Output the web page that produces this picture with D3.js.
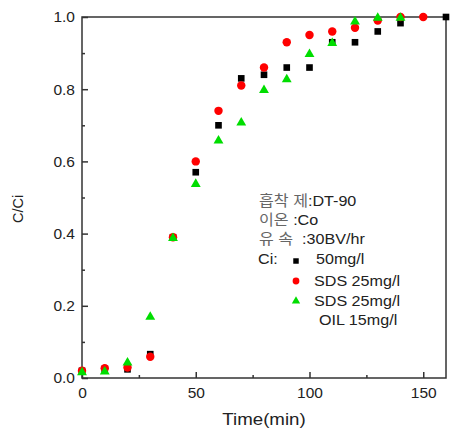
<!DOCTYPE html>
<html>
<head>
<meta charset="utf-8">
<script src="https://cdn.jsdelivr.net/npm/d3@7"></script>
<style>
  body { margin: 0; background: #fff; }
  text { font-family: "Liberation Sans", Arial, "Noto Sans CJK KR", sans-serif; white-space: pre; }
</style>
</head>
<body>
<svg id="chart" width="452" height="437"></svg>
<script>
// data
const blackTimes = [0, 10, 20, 30, 40, 50, 60, 70, 80, 90, 100, 110, 120, 130, 140, 160];
const blackVals  = [0.02, 0.025, 0.024, 0.066, 0.39, 0.57, 0.70, 0.83, 0.84, 0.86, 0.86, 0.93, 0.93, 0.96, 0.983, 1.0];
const redTimes = [0, 10, 20, 30, 40, 50, 60, 70, 80, 90, 100, 110, 120, 130, 140, 150];
const redVals  = [0.02, 0.027, 0.029, 0.059, 0.39, 0.60, 0.74, 0.81, 0.86, 0.93, 0.95, 0.96, 0.97, 0.99, 1.0, 1.0];
const greenTimes = [0, 10, 20, 30, 40, 50, 60, 70, 80, 90, 100, 110, 120, 130, 140];
const greenVals  = [0.018, 0.02, 0.045, 0.172, 0.39, 0.54, 0.66, 0.71, 0.80, 0.83, 0.90, 0.93, 0.99, 1.0, 1.0];
const xTicks = [0, 50, 100, 150];
const xMinor = [25, 75, 125];
const yTicks = [0.0, 0.2, 0.4, 0.6, 0.8, 1.0];
const yMinor = [0.1, 0.3, 0.5, 0.7, 0.9];
const infoKeys = ["흡착 제", "이온 ", "유 속  "];
const infoValues = [":DT-90", ":Co", ":30BV/hr"];
const legendLabels = ["50mg/l", "SDS 25mg/l", "SDS 25mg/l", "OIL 15mg/l"];

const svg = d3.select("#chart");
const margins = {left: 82, top: 17, right: 6, bottom: 59};
const height = +svg.attr("height");
const chartHeight = height - margins.top - margins.bottom;
const axisColor = "#333";
const stretch = 1.075; // the reference text is a bit wide

const xScale = d3.scaleLinear().domain([0, 160]).range([0, 364]);
const yScale = d3.scaleLinear().domain([0, 1]).range([chartHeight, 0]);

const chart = svg.append("g")
                 .attr("transform", `translate(${margins.left}, ${margins.top})`);

// frame
chart.append("rect")
     .attr("x", 0).attr("y", 0)
     .attr("width", xScale(160)).attr("height", chartHeight)
     .attr("fill", "none")
     .attr("stroke", axisColor)
     .attr("stroke-width", 1.5);

// axes, ticks pointing inward
const xAxisG = chart.append("g").attr("transform", `translate(0, ${chartHeight})`);
xAxisG.call(d3.axisBottom(xScale).tickValues(xTicks).tickSize(-6).tickPadding(9).tickFormat(d3.format("d")));
const xMinorG = chart.append("g").attr("transform", `translate(0, ${chartHeight})`);
xMinorG.call(d3.axisBottom(xScale).tickValues(xMinor).tickSize(-3).tickFormat(""));

const yAxisG = chart.append("g");
yAxisG.call(d3.axisLeft(yScale).tickValues(yTicks).tickSize(-6).tickPadding(7).tickFormat(d3.format(".1f")));
const yMinorG = chart.append("g");
yMinorG.call(d3.axisLeft(yScale).tickValues(yMinor).tickSize(-3).tickFormat(""));

[xAxisG, xMinorG, yAxisG, yMinorG].forEach(g => {
    g.select(".domain").remove();
    g.selectAll("line").attr("stroke", axisColor).attr("stroke-width", 1.5);
    g.selectAll("text")
     .attr("fill", "#222")
     .style("font-size", "15.5px")
     .style("font-family", "'Liberation Sans', Arial, sans-serif");
});

// axis titles
svg.append("text")
   .attr("transform", "translate(264, 425) scale(1.1, 1)")
   .attr("text-anchor", "middle")
   .attr("fill", "#222")
   .style("font-size", "17px")
   .text("Time(min)");
svg.append("text")
   .attr("transform", "translate(22.5, 209) rotate(-90)")
   .attr("text-anchor", "middle")
   .attr("fill", "#222")
   .style("font-size", "14.5px")
   .text("C/Ci");

// markers
const squareSym = d3.symbol().type(d3.symbolSquare).size(44);
const circleSym = d3.symbol().type(d3.symbolCircle).size(56);
const triSym = d3.symbol().type(d3.symbolTriangle).size(42);

const greenData = greenTimes.map((t, i) => ({t, v: greenVals[i]}));
const blackData = blackTimes.map((t, i) => ({t, v: blackVals[i]}));
const redData = redTimes.map((t, i) => ({t, v: redVals[i]}));

chart.selectAll(".sq")
     .data(blackData)
     .join("path")
     .attr("class", "sq")
     .attr("d", squareSym)
     .attr("fill", "#000")
     .attr("transform", d => `translate(${xScale(d.t)}, ${yScale(d.v)})`);
chart.selectAll(".ci")
     .data(redData)
     .join("path")
     .attr("class", "ci")
     .attr("d", circleSym)
     .attr("fill", "#ff0000")
     .attr("transform", d => `translate(${xScale(d.t)}, ${yScale(d.v)})`);
chart.selectAll(".tr")
     .data(greenData)
     .join("path")
     .attr("class", "tr")
     .attr("d", triSym)
     .attr("fill", "#00dd00")
     .attr("transform", d => `translate(${xScale(d.t)}, ${yScale(d.v) + 1})`);

// info / legend block
const info = svg.append("g").style("font-size", "15px");
const infoText = info.selectAll("text.info")
    .data(infoKeys)
    .join("text")
    .attr("class", "info")
    .attr("transform", (d, i) => `translate(259, ${205.5 + i * 19.3}) scale(${stretch}, 1)`);
infoText.append("tspan").attr("fill", "#666").text(d => d);
infoText.append("tspan").attr("fill", "#222").text((d, i) => infoValues[i]);
info.append("text")
    .attr("transform", `translate(258, 264) scale(${stretch}, 1)`)
    .attr("fill", "#222")
    .text("Ci:");

const legendSymbols = [d3.symbolSquare, d3.symbolCircle, d3.symbolTriangle];
const legendColors = ["#000", "#ff0000", "#00dd00"];
const legendSizes = [30, 36, 30];
const legendTextX = [316, 314, 314, 319];
const legendTextY = [264, 286, 305.5, 324.5];
const legY = i => 261 + i * 20;
info.selectAll("path.leg")
    .data(legendSymbols)
    .join("path")
    .attr("class", "leg")
    .attr("d", (d, i) => d3.symbol().type(d).size(legendSizes[i])())
    .attr("fill", (d, i) => legendColors[i])
    .attr("transform", (d, i) => `translate(296, ${legY(i)})`);
info.selectAll("text.leg")
    .data(legendLabels)
    .join("text")
    .attr("class", "leg")
    .attr("transform", (d, i) => `translate(${legendTextX[i]}, ${legendTextY[i]}) scale(${stretch}, 1)`)
    .attr("fill", "#222")
    .text(d => d);
</script>
</body>
</html>
